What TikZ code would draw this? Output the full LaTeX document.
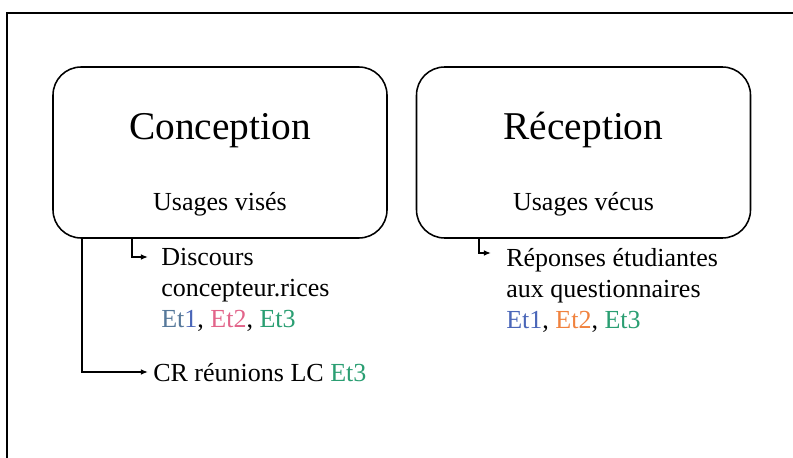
\documentclass[tikz,border=0pt]{standalone}
\usepackage{fontspec}
\setmainfont{Liberation Serif}
\usepackage{xcolor}
\usetikzlibrary{arrows.meta}

\definecolor{etgrey}{HTML}{56789A}
\definecolor{etblue}{HTML}{4A66B8}
\definecolor{etpink}{HTML}{E2648A}
\definecolor{etorange}{HTML}{F0823E}
\definecolor{etgreen}{HTML}{2A9E72}

\tikzset{
    phase/.style={draw, line width=1.1pt, rounded corners=20, minimum width=334*0.025cm, minimum height=171*0.025cm},
    title/.style={anchor=base, font=\fontsize{28}{34}\selectfont},
    sub/.style={anchor=base, font=\fontsize{18.5}{22}\selectfont},
    source/.style={anchor=north west, align=left, inner sep=0pt, font=\fontsize{18.5}{22}\selectfont},
    link/.style={line width=1pt, -{Latex[length=5pt, width=4pt]}}
}

\begin{document}
\begin{tikzpicture}[x=0.025cm, y=-0.025cm]
        \useasboundingbox (0,0) rectangle (793,458);
        \clip (0,0) rectangle (793,458);

        % Frame
        \draw[line width=1.4pt] (7,13) rectangle (820,480);

        % Conception
        \node[phase] (conc) at (220,152.5) {};
        \node[title] (concT) at (220,140) {Conception};
        \node[sub] (concU) at (220,210) {Usages visés};

        % Reception
        \node[phase] (recep) at (583.5,152.5) {};
        \node[title] (recepT) at (583.5,140) {Réception};
        \node[sub] (recepU) at (583.5,210) {Usages vécus};

        % Sources
        \node[source] (disc) at (161,248) {Discours\\concepteur.rices\\
            {\color{etgrey}Et}{\color{etblue}1}, {\color{etpink}Et2}, {\color{etgreen}Et3}};
        \node[source] (crlc) at (153,363) {CR réunions LC {\color{etgreen}Et3}};
        \node[source] (rep) at (506,248) {Réponses étudiantes\\aux questionnaires\\
            {\color{etblue}Et1}, {\color{etorange}Et2}, {\color{etgreen}Et3}};

        % Arrows
        \draw[link] (conc.south -| 132,0) |- ([shift={(-13,9)}]disc.north west);
        \draw[link] (conc.south -| 82,0) |- ([shift={(-5,9)}]crlc.north west);
        \draw[link] (recep.south -| 479,0) |- ([shift={(-15,5)}]rep.north west);
    \end{tikzpicture}
\end{document}
